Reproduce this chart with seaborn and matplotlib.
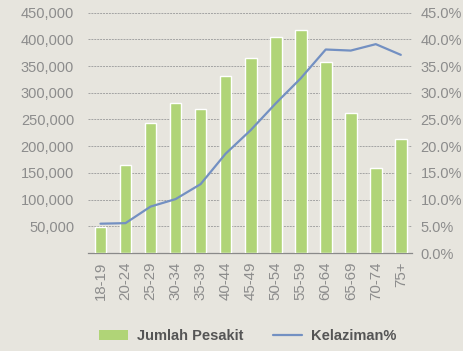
import matplotlib
matplotlib.use("Agg")
import matplotlib.pyplot as plt
import seaborn as sns
import pandas as pd
from matplotlib.patches import Patch
from matplotlib.lines import Line2D
from matplotlib.ticker import FuncFormatter

age_groups = ["18-19", "20-24", "25-29", "30-34", "35-39", "40-44", "45-49",
              "50-54", "55-59", "60-64", "65-69", "70-74", "75+"]
patients = [48000, 165000, 244000, 280000, 269000, 332000, 366000,
            405000, 418000, 358000, 263000, 159000, 213000]
prevalence = [5.5, 5.6, 8.7, 10.1, 12.9, 18.6, 23.0,
              28.0, 32.7, 38.1, 37.9, 39.1, 37.1]
left_ticks = [50000, 100000, 150000, 200000, 250000, 300000, 350000, 400000, 450000]
right_ticks = [0, 5, 10, 15, 20, 25, 30, 35, 40, 45]

df = pd.DataFrame({"age": age_groups, "patients": patients, "pct": prevalence})

bg = "#e7e5de"
bar_col = "#b0d477"
line_col = "#7390c2"
txt_col = "#8c8c8c"

sns.set_theme(style="white")
plt.rcParams["font.family"] = ["Liberation Sans", "DejaVu Sans"]

fig = plt.figure(figsize=(4.63, 3.51), dpi=100, facecolor=bg)
ax = fig.add_axes([0.19, 0.279, 0.70, 0.685])
ax.set_facecolor(bg)

sns.barplot(data=df, x="age", y="patients", color=bar_col, width=0.47,
            saturation=1, ax=ax, zorder=3)
ax.set_ylim(0, 450000)
ax.set_yticks(left_ticks)
ax.yaxis.set_major_formatter(FuncFormatter(lambda v, p: f"{int(v):,}"))
ax.grid(axis="y", color="#a3a3a3", linestyle=(0, (2, 1)), linewidth=0.7, zorder=0)
ax.set_axisbelow(True)

ax2 = ax.twinx()
sns.pointplot(data=df, x="age", y="pct", color=line_col, markers="",
              linestyles="-", errorbar=None, ax=ax2)
for l in ax2.lines:
    l.set_linewidth(1.6)
ax2.set_ylim(0, 45)
ax2.set_yticks(right_ticks)
ax2.yaxis.set_major_formatter(FuncFormatter(lambda v, p: f"{v:.1f}%"))

ax.set_xlim(-0.5, 12.45)
ax.set_xticks(range(len(age_groups)))
ax.set_xticklabels(age_groups, rotation=90)

for a in (ax, ax2):
    for s in a.spines.values():
        s.set_visible(False)
    a.set_xlabel("")
    a.set_ylabel("")
ax.spines["bottom"].set_visible(True)
ax.spines["bottom"].set_color("#8a8a8a")
ax.spines["bottom"].set_linewidth(0.9)

ax.tick_params(axis="y", length=0, pad=10, labelsize=10.5, labelcolor=txt_col)
ax.tick_params(axis="x", length=0, pad=6, labelsize=10.8, labelcolor=txt_col)
ax2.tick_params(axis="y", length=0, pad=6, labelsize=10.5, labelcolor=txt_col)

handles = [Patch(facecolor=bar_col, edgecolor="none", label="Jumlah Pesakit"),
           Line2D([0], [0], color=line_col, lw=1.6, label="Kelaziman%")]
leg = fig.legend(handles=handles, loc="lower center", bbox_to_anchor=(0.535, -0.015),
                 ncol=2, frameon=False, fontsize=10.5, handlelength=2.0,
                 handleheight=0.7, columnspacing=2.0, handletextpad=0.6)
for t in leg.get_texts():
    t.set_color("#555555")
    t.set_fontweight("bold")

fig.savefig("out.png", dpi=100, facecolor=bg)
